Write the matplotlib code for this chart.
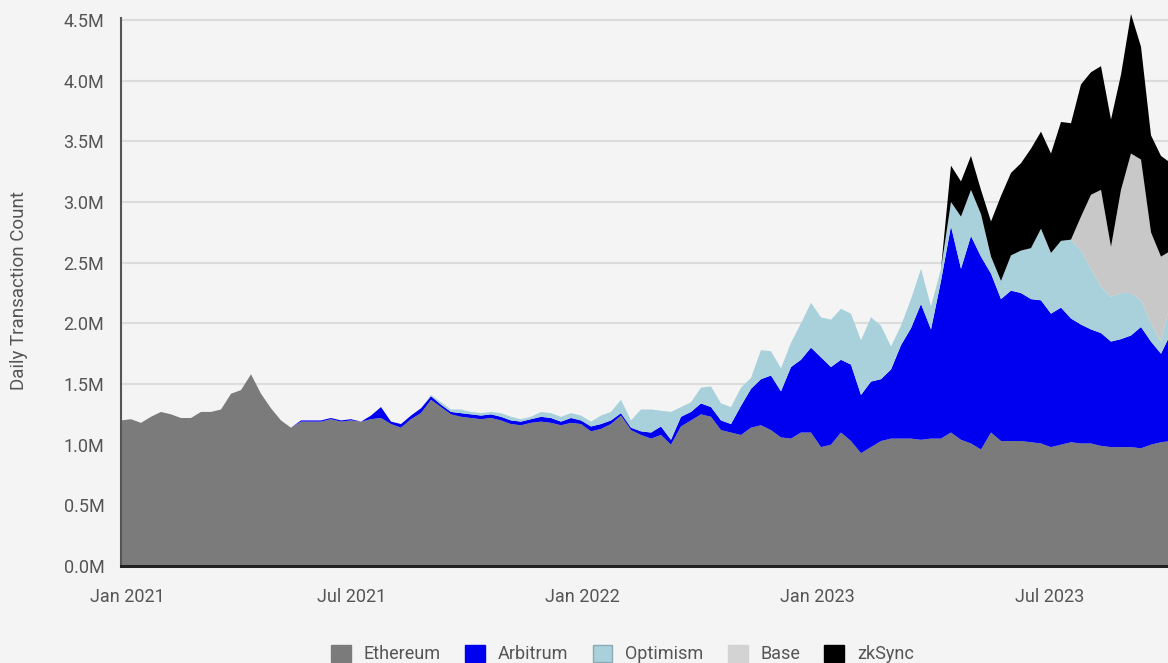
import matplotlib
matplotlib.use("Agg")
import matplotlib.pyplot as plt
import numpy as np
from matplotlib.patches import Patch

# Daily transaction count (millions), sampled along the time axis
ethereum = [1.20, 1.21, 1.18, 1.23, 1.27, 1.25, 1.22, 1.22, 1.27, 1.27,
            1.29, 1.42, 1.45, 1.58, 1.42, 1.30, 1.20, 1.14, 1.19, 1.19,
            1.19, 1.21, 1.19, 1.20, 1.19, 1.21, 1.22, 1.17, 1.14, 1.21,
            1.26, 1.37, 1.31, 1.25, 1.23, 1.22, 1.21, 1.22, 1.20, 1.17,
            1.16, 1.18, 1.19, 1.18, 1.16, 1.18, 1.17, 1.11, 1.13, 1.17,
            1.24, 1.12, 1.08, 1.05, 1.08, 1.00, 1.15, 1.20, 1.25, 1.23,
            1.12, 1.10, 1.08, 1.14, 1.16, 1.12, 1.06, 1.05, 1.10, 1.10,
            0.98, 1.00, 1.10, 1.03, 0.93, 0.98, 1.03, 1.05, 1.05, 1.05,
            1.04, 1.05, 1.05, 1.10, 1.04, 1.01, 0.96, 1.10, 1.03, 1.03,
            1.03, 1.02, 1.01, 0.98, 1.00, 1.02, 1.01, 1.01, 0.99, 0.98,
            0.98, 0.98, 0.97, 1.00, 1.02, 1.03]
arbitrum = [0, 0, 0, 0, 0, 0, 0, 0, 0, 0,
            0, 0, 0, 0, 0, 0, 0, 0, .01, .01,
            .01, .01, .01, .01, 0, .03, .09, .02, .03, .03,
            .04, .03, .02, .02, .03, .03, .03, .03, .03, .03,
            .03, .03, .04, .04, .03, .04, .03, .04, .04, .03,
            .02, .02, .03, .05, .07, .04, .08, .07, .09, .08,
            .08, .07, .24, .32, .38, .45, .38, .59, .60, .70,
            .74, .64, .60, .63, .48, .54, .51, .57, .77, .91,
            1.12, .90, 1.30, 1.70, 1.41, 1.71, 1.59, 1.31, 1.17, 1.24,
            1.22, 1.18, 1.18, 1.10, 1.13, 1.02, .98, .94, .93, .87,
            .89, .92, 1.00, .85, .73, .89]
optimism = [0, 0, 0, 0, 0, 0, 0, 0, 0, 0,
            0, 0, 0, 0, 0, 0, 0, 0, 0, 0,
            0, 0, 0, 0, 0, 0, 0, 0, 0, 0,
            0, .01, .02, .02, .03, .02, .02, .02, .03, .03,
            .02, .02, .04, .04, .04, .04, .04, .04, .07, .07,
            .11, .06, .18, .19, .13, .23, .08, .08, .13, .17,
            .14, .14, .15, .09, .24, .20, .19, .20, .30, .37,
            .33, .39, .42, .42, .45, .53, .44, .19, .16, .24,
            .29, .19, .10, .20, .43, .38, .35, .14, .15, .29,
            .35, .42, .59, .50, .55, .65, .61, .50, .38, .37,
            .38, .35, .22, .15, .10, .27]
base = [0] * 96 + [.28, .61, .80, .41, .85, 1.15, 1.16, .75, .70, .41]
zksync = [0] * 83 + [.30, .29, .28, .20, .29, .70, .68, .72, .82, .80,
                     .82, .98, .96, 1.09, 1.01, 1.02, 1.05, .95, 1.15, .93,
                     .80, .83, .72]

series = [ethereum, arbitrum, optimism, base, zksync]
names = ["Ethereum", "Arbitrum", "Optimism", "Base", "zkSync"]
colors = ["#7b7b7b", "#0000f0", "#a8d1dc", "#c8c8c8", "#000000"]
legend_colors = ["#7b7b7b", "#0000f0", "#a8d1dc", "#d3d3d3", "#000000"]

tick_pos = [0.6, 23.1, 46.1, 69.6, 92.9]
tick_labels = ["Jan 2021", "Jul 2021", "Jan 2022", "Jan 2023", "Jul 2023"]
y_ticks = [0, 0.5, 1.0, 1.5, 2.0, 2.5, 3.0, 3.5, 4.0, 4.5]

plt.rcParams['font.family'] = ['Roboto', 'DejaVu Sans']
bg = "#f4f4f4"

fig = plt.figure(figsize=(11.68, 6.63), dpi=100, facecolor=bg)
ax = fig.add_axes([121 / 1168, 1 - 566 / 663, 1 - 121 / 1168, (566 - 18) / 663])
ax.set_facecolor(bg)

x = np.arange(len(ethereum))
polys = ax.stackplot(x, *series, colors=colors, linewidth=0, zorder=2)
for p in polys:
    p.set_clip_on(False)

ax.set_xlim(0, 104.7)
ax.set_ylim(0, 4.517)
ax.set_yticks(y_ticks)
ax.set_yticklabels(["%.1fM" % v for v in y_ticks])
ax.set_xticks(tick_pos)
ax.set_xticklabels(tick_labels)
ax.tick_params(axis="y", length=0, pad=12, labelsize=13, labelcolor="#555555")
ax.tick_params(axis="x", length=0, pad=16, labelsize=13, labelcolor="#555555")
ax.grid(axis="y", color="#dcdcdc", linewidth=1.5, zorder=0)
ax.set_axisbelow(True)

for s in ["top", "right"]:
    ax.spines[s].set_visible(False)
ax.spines["left"].set_color("#555555")
ax.spines["left"].set_linewidth(1.5)
ax.spines["bottom"].set_color("#222222")
ax.spines["bottom"].set_linewidth(2.2)
ax.spines["bottom"].set_zorder(3)

fig.text(19 / 1168, 1 - 290 / 663, "Daily Transaction Count", rotation=90,
         ha="center", va="center", fontsize=13.5, color="#555555")

handles = [Patch(facecolor=c, edgecolor=("#8aaab4" if n == "Optimism" else c), label=n)
           for c, n in zip(legend_colors, names)]
fig.legend(handles=handles, loc="lower center", bbox_to_anchor=(0.533, -0.025),
           ncol=5, frameon=False, fontsize=13, handlelength=1.1, handleheight=1.1,
           columnspacing=1.35, handletextpad=0.7, labelcolor="#555555")

fig.savefig("out.png", dpi=100, facecolor=bg)
